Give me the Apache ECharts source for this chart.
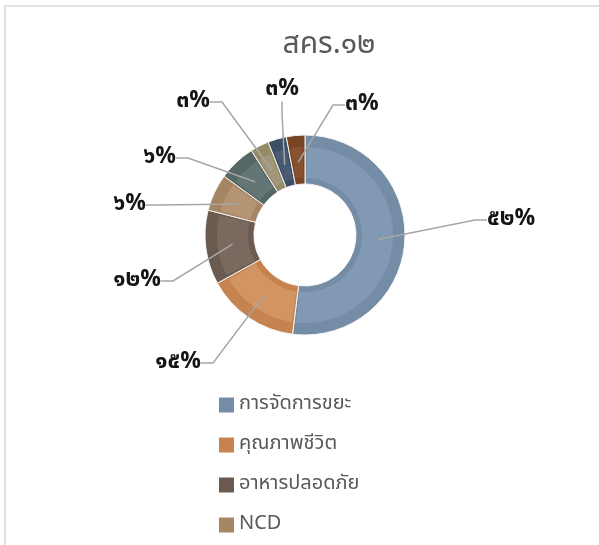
<!DOCTYPE html>
<html><head><meta charset="utf-8">
<script src="https://cdn.jsdelivr.net/npm/echarts@6/dist/echarts.min.js"></script>
<style>html,body{margin:0;padding:0;background:#fff}#c{width:599px;height:545px}</style>
</head><body><div id="c"></div>
<script>
const title = 'สคร.๑๒';
const categories = ['การจัดการขยะ','คุณภาพชีวิต','อาหารปลอดภัย','NCD','วัณโรค','โรคติดต่อ','สิ่งแวดล้อม','อื่นๆ'];
const values = [52, 15, 12, 6, 6, 3, 3, 3];
const colors = ['#758ca6','#c6834f','#6b5a4f','#a68562','#566866','#958a66','#3c4f66','#7a4522'];
const lightColors = ['#8299b3','#d29463','#7a695e','#b49473','#637574','#a2977a','#485b72','#87522f'];

// label placement (layout only): [x, y, align]
const labelPlace = [[479,220,'left'],[209,363,'right'],[169,281,'right'],[154,205,'right'],
  [184,158,'right'],[218,102,'right'],[282,90,'center'],[337,105,'left']];

const thaiDigits = '๐๑๒๓๔๕๖๗๘๙';
const toThai = s => String(s).replace(/[0-9]/g, d => thaiDigits[+d]);
const CX = 305, CY = 235;

const chart = echarts.init(document.getElementById('c'), null, {renderer:'canvas'});
const font = "'Noto Sans Thai','Noto Sans','DejaVu Sans',sans-serif";
const pieData = categories.map((n, i) => ({name: n, value: values[i]}));
chart.setOption({
  animation: false,
  color: colors,
  title: {text: title, left: 324, top: 27, textAlign: 'center',
    textStyle: {fontSize: 30, fontWeight: 'normal', color: '#595959', fontFamily: font}},
  legend: {orient: 'vertical', left: 214, top: 390, height: 700, itemWidth: 15, itemHeight: 15,
    itemGap: 20, icon: 'rect', data: categories,
    itemStyle: {borderWidth: 0},
    textStyle: {fontSize: 20, lineHeight: 20, color: '#595959', fontFamily: font}},
  graphic: [{type: 'rect', shape: {x: 5, y: 6, width: 700, height: 700},
    style: {fill: 'none', stroke: '#d9d9d9', lineWidth: 1.5}, silent: true}],
  series: [{
    type: 'pie', radius: [51, 100], center: [CX, CY], startAngle: 90, clockwise: true,
    data: pieData, z: 1,
    itemStyle: {borderColor: '#f4f4f4', borderWidth: 1},
    label: {show: false}, labelLine: {show: false}
  }, {
    type: 'pie', radius: [57, 88], center: [CX, CY], startAngle: 90, clockwise: true,
    silent: true, padAngle: 3, legendHoverLink: false, z: 2,
    data: categories.map((n, i) => ({name: n, value: values[i], itemStyle: {color: lightColors[i]}})),
    label: {show: false}, labelLine: {show: false}
  }, {
    type: 'pie', radius: [0, 73], center: [CX, CY], startAngle: 90, clockwise: true,
    silent: true, legendHoverLink: false, z: 3, avoidLabelOverlap: false,
    data: pieData,
    itemStyle: {color: 'rgba(0,0,0,0)'},
    label: {show: true, formatter: p => toThai(p.value) + '%', fontSize: 23, fontWeight: 'bold',
      color: '#151515', fontFamily: font, padding: [5, 8, 5, 8]},
    labelLine: {show: true, length: 25, length2: 12, lineStyle: {color: '#a6a6a6', width: 1.5}},
    labelLayout: function (p) {
      const [x, y, align] = labelPlace[p.dataIndex];
      return {x: x, y: y, align: align, verticalAlign: 'middle'};
    }
  }]
});
</script></body></html>
